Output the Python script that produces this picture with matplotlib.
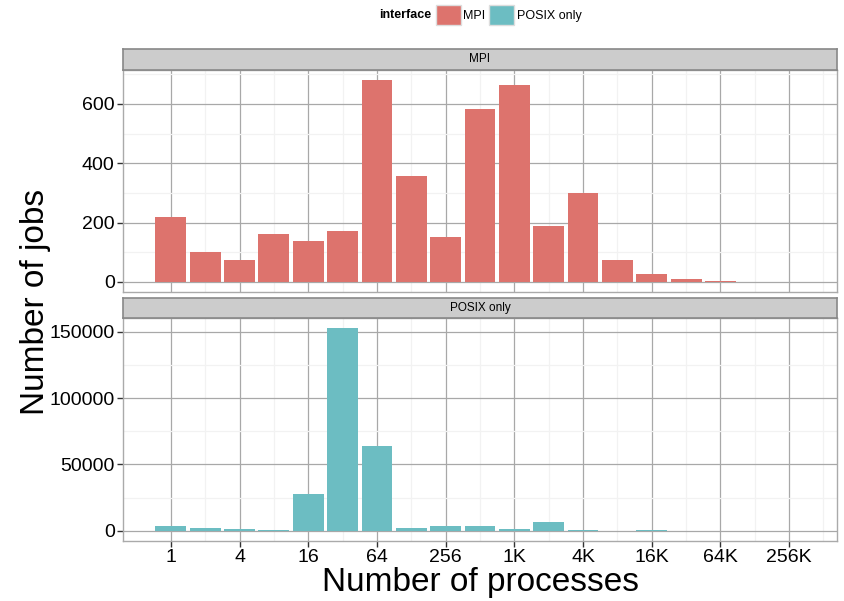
import matplotlib
matplotlib.use("Agg")
import matplotlib.pyplot as plt
from matplotlib.patches import Patch
from matplotlib.ticker import FixedLocator, NullFormatter
import numpy as np

# Data (number of processes, powers of two)
procs = [1, 2, 4, 8, 16, 32, 64, 128, 256, 512, 1024, 2048, 4096,
         8192, 16384, 32768, 65536]
mpi_jobs = [218, 100, 74, 161, 137, 171, 680, 358, 151, 583, 663, 188, 298,
            74, 27, 10, 4]
posix_jobs = [4000, 2300, 1200, 700, 27800, 152700, 64000, 2000, 3500, 3700,
              1200, 6500, 300, 200, 400, 150, 0]
x_ticks = [1, 4, 16, 64, 256, 1024, 4096, 16384, 65536, 262144]
x_labels = ["1", "4", "16", "64", "256", "1K", "4K", "16K", "64K", "256K"]

MPI_COLOR = "#DD736D"
POSIX_COLOR = "#6CBDC2"
FONT = "Liberation Sans"

plt.rcParams["font.family"] = [FONT, "DejaVu Sans"]

W, H = 844, 601
fig = plt.figure(figsize=(W / 100, H / 100), dpi=100)


def fx(px):
    return px / W


def fy(px):
    return 1 - px / H


def panel(top, bottom, strip_top, label, values, color, yticks, yminor, ylim, show_x):
    left, right = 123, 837
    ax = fig.add_axes([fx(left), fy(bottom), fx(right - left), (bottom - top) / H])
    sax = fig.add_axes([fx(left), fy(top), fx(right - left), (top - strip_top) / H])
    sax.set_xticks([])
    sax.set_yticks([])
    sax.set_facecolor("#CCCCCC")
    for s in sax.spines.values():
        s.set_color("#888888")
        s.set_linewidth(1.2)
    sax.text(0.5, 0.5, label, ha="center", va="center", fontsize=8.5,
             transform=sax.transAxes)

    x = np.array(procs, dtype=float)
    lo = x * 2 ** -0.45
    hi = x * 2 ** 0.45
    ax.bar(lo, values, width=hi - lo, align="edge", color=color,
           edgecolor="none", zorder=3)
    ax.set_xscale("log", base=2)
    ax.set_xlim(2 ** -1.395, 2 ** 19.395)
    ax.set_ylim(*ylim)

    ax.xaxis.set_major_locator(FixedLocator(x_ticks))
    ax.xaxis.set_minor_locator(FixedLocator([t * 2 for t in x_ticks]))
    ax.xaxis.set_minor_formatter(NullFormatter())
    ax.set_yticks(yticks)
    ax.set_yticks(yminor, minor=True)
    ax.tick_params(which="major", labelsize=14, length=4, width=1,
                   color="#333333", labelcolor="black", pad=2)
    ax.tick_params(which="minor", length=0)
    if show_x:
        ax.set_xticklabels(x_labels)
    else:
        ax.set_xticklabels([])
        ax.tick_params(axis="x", which="major", length=0)

    ax.grid(which="major", color="#A8A8A8", lw=0.9, zorder=0)
    ax.grid(which="minor", color="#F2F2F2", lw=0.9, zorder=0)
    ax.set_axisbelow(True)
    for s in ax.spines.values():
        s.set_color("#AAAAAA")
        s.set_linewidth(1)
    return ax


panel(70, 292, 49, "MPI", mpi_jobs, MPI_COLOR,
      [0, 200, 400, 600], [100, 300, 500, 700], (-34, 714), False)
panel(318, 541, 298, "POSIX only", posix_jobs, POSIX_COLOR,
      [0, 50000, 100000, 150000], [25000, 75000, 125000],
      (-7635, 160335), True)

fig.text(fx(480), fy(583), "Number of processes", ha="center", va="center",
         fontsize=24)
fig.text(fx(36), fy(302), "Number of jobs", ha="center", va="center",
         fontsize=24, rotation=90)

# legend
handles = [Patch(facecolor=MPI_COLOR, edgecolor="#DDDDDD", label="MPI"),
           Patch(facecolor=POSIX_COLOR, edgecolor="#DDDDDD", label="POSIX only")]
fig.legend(handles=handles, loc="center left", bbox_to_anchor=(fx(436), fy(15)),
           ncol=2, frameon=False, fontsize=9, handlelength=2.0,
           handleheight=2.0, handletextpad=0.2, columnspacing=0.3,
           borderaxespad=0, borderpad=0)
fig.text(fx(431), fy(15), "interface", ha="right", va="center", fontsize=9,
         fontweight="bold")

fig.savefig("out.png", dpi=100, facecolor="white")
